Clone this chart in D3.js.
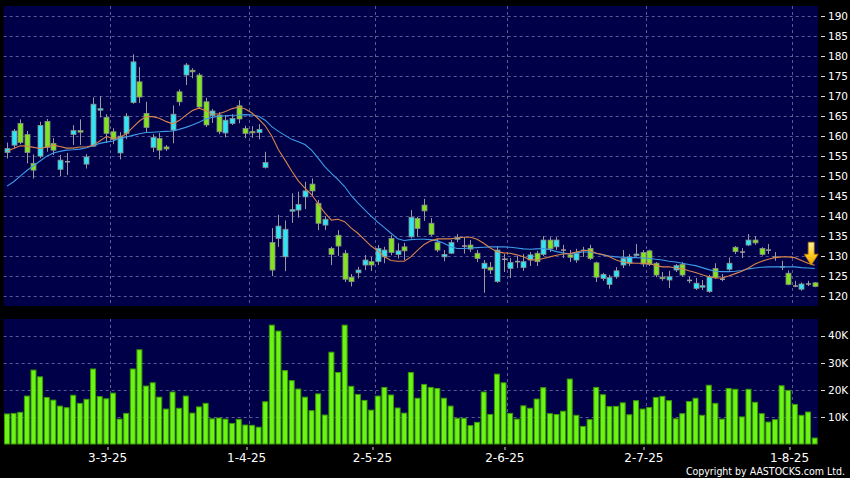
<!DOCTYPE html>
<html><head><meta charset="utf-8">
<script src="https://cdn.jsdelivr.net/npm/d3@7"></script>
<style>html,body{margin:0;padding:0;background:#000;}svg{display:block;}</style>
</head><body>
<svg id="chart" width="850" height="478"></svg>
<script>
// ---- data ----
const dates = [
"7-2-25","10-2-25","11-2-25","12-2-25","13-2-25","14-2-25","17-2-25","18-2-25","19-2-25","20-2-25","21-2-25","24-2-25","25-2-25","26-2-25","27-2-25","28-2-25",
"3-3-25","4-3-25","5-3-25","6-3-25","7-3-25","10-3-25","11-3-25","12-3-25","13-3-25","14-3-25","17-3-25","18-3-25","19-3-25","20-3-25","21-3-25","24-3-25","25-3-25","26-3-25","27-3-25","28-3-25","31-3-25",
"1-4-25","2-4-25","3-4-25","7-4-25","8-4-25","9-4-25","10-4-25","11-4-25","14-4-25","15-4-25","16-4-25","17-4-25","22-4-25","23-4-25","24-4-25","25-4-25","28-4-25","29-4-25","30-4-25",
"2-5-25","6-5-25","7-5-25","8-5-25","9-5-25","12-5-25","13-5-25","14-5-25","15-5-25","16-5-25","19-5-25","20-5-25","21-5-25","22-5-25","23-5-25","26-5-25","27-5-25","28-5-25","29-5-25","30-5-25",
"2-6-25","3-6-25","4-6-25","5-6-25","6-6-25","9-6-25","10-6-25","11-6-25","12-6-25","13-6-25","16-6-25","17-6-25","18-6-25","19-6-25","20-6-25","23-6-25","24-6-25","25-6-25","26-6-25","27-6-25","30-6-25",
"2-7-25","3-7-25","4-7-25","7-7-25","8-7-25","9-7-25","10-7-25","11-7-25","14-7-25","15-7-25","16-7-25","17-7-25","18-7-25","21-7-25","22-7-25","23-7-25","24-7-25","25-7-25","28-7-25","29-7-25","30-7-25","31-7-25",
"1-8-25","4-8-25","5-8-25","6-8-25"];

const open  = [155.9,157.75,163.2,160.4,153.2,155.0,163.7,158.2,151.7,153.6,160.4,161.4,153.0,157.5,166.5,164.7,161.1,155.8,160.7,168.4,173.6,165.7,157.2,159.4,157.3,161.5,171.1,175.3,176.5,175.3,168.6,165.1,165.3,160.8,163.2,167.6,
               161.9,161.2,160.9,152.2,133.4,134.4,129.8,141.3,141.5,144.8,148.0,143.2,137.75,131.9,135.2,130.7,124.7,125.8,127.75,128.6,
               128.6,129.8,134.4,130.4,132.3,134.8,139.4,142.75,138.2,133.4,129.8,130.7,134.2,132.5,132.75,130.7,126.9,127.2,123.6,129.2,
               126.9,128.6,127.1,129.0,130.7,130.4,134.0,132.3,131.5,130.3,129.0,131.4,131.9,128.3,124.4,122.9,124.8,127.75,128.2,130.2,130.9,
               131.3,128.2,124.7,124.0,126.5,127.9,123.9,121.9,122.2,121.1,126.9,124.2,126.7,132.2,131.0,132.75,134.0,131.9,131.5,129.7,127.3,125.7,
               122.5,121.7,123.0,123.3];
const high  = [158.4,161.8,164.2,161.3,155.4,163.6,164.3,159.5,155.3,155.8,162.75,164.2,155.5,169.7,170.0,165.5,162.0,161.0,165.75,180.5,177.3,168.6,160.5,160.8,157.8,167.7,171.7,178.3,177.0,175.8,169.6,166.8,166.0,165.3,165.5,169.0,
               162.6,162.5,163.0,156.1,137.0,140.3,138.9,145.7,146.1,148.6,149.4,144.0,140.0,132.3,136.5,131.5,125.5,127.3,130.25,129.8,
               132.75,132.3,135.2,133.2,133.3,141.5,139.8,144.3,139.5,134.3,131.5,134.0,135.5,134.75,134.0,131.5,129.0,128.5,132.5,130.5,
               129.5,130.0,130.5,131.0,131.3,135.0,134.7,134.7,132.8,131.5,131.8,132.3,132.8,128.6,125.8,125.3,127.2,131.5,130.5,133.0,131.5,
               131.6,128.5,126.0,126.3,128.0,128.5,124.8,124.5,124.0,125.3,128.2,125.5,129.6,132.5,132.0,135.5,135.0,132.2,133.0,131.0,128.8,126.4,
               123.8,123.4,123.8,123.5];
const low   = [154.4,157.0,158.0,153.2,149.4,154.5,156.1,155.3,150.0,150.3,157.8,157.8,151.9,157.3,164.7,158.3,158.0,154.2,159.25,168.1,168.3,161.0,156.0,154.2,156.3,158.2,167.6,172.8,174.5,166.8,162.3,163.3,160.5,159.7,162.8,163.2,
               159.5,159.6,159.2,151.9,125.0,132.3,126.2,138.3,139.6,141.75,145.0,136.5,136.5,127.75,130.0,123.5,122.4,124.4,126.5,126.25,
               127.75,128.2,130.2,129.4,129.0,134.4,134.8,138.8,135.0,131.0,128.7,130.5,133.5,130.6,131.0,128.5,120.8,125.5,123.3,126.0,
               124.5,127.0,126.3,127.5,127.5,130.0,131.0,131.5,129.5,128.5,128.3,129.8,129.0,123.5,123.8,121.8,124.3,127.0,127.5,129.9,127.3,
               127.5,124.7,123.8,122.0,126.0,124.8,123.2,121.5,121.5,120.8,124.3,123.7,126.3,130.5,129.5,132.5,132.8,130.1,130.5,128.8,126.5,122.7,
               122.2,121.3,122.5,122.2];
const close = [156.9,161.3,158.4,155.9,151.5,162.7,157.2,156.5,154.0,153.6,161.4,161.0,154.8,168.0,166.9,160.7,159.2,160.0,165.0,178.6,169.8,162.2,159.7,156.5,156.8,165.5,168.6,177.8,176.1,167.3,162.8,166.3,161.1,164.0,164.4,164.3,
               160.7,161.0,161.7,153.4,126.5,137.5,136.7,141.6,142.9,146.3,146.3,138.2,139.2,130.4,132.5,124.2,123.6,126.5,129.0,127.75,
               131.9,131.5,130.9,131.3,131.3,139.7,136.9,141.3,135.4,131.5,130.4,133.4,134.6,132.5,131.75,129.4,128.2,126.5,131.5,129.2,
               128.4,128.6,128.6,130.3,128.6,134.0,131.8,134.0,131.5,129.7,130.7,131.4,129.4,124.7,125.4,124.6,126.3,129.4,129.8,130.5,128.0,
               127.9,125.25,124.4,124.8,127.6,125.25,123.9,123.2,122.6,124.8,124.6,124.2,128.2,131.1,131.0,134.0,133.3,130.4,131.5,129.7,127.3,122.9,
               122.5,123.0,123.0,122.4];
const ma10 = [156.2,156.9,157.6,157.5,157.2,156.9,157.3,157.75,157.4,157.0,157.0,157.3,157.3,157.7,158.8,159.9,159.5,159.6,160.6,162.2,163.8,164.9,164.9,164.5,163.7,163.1,163.9,165.2,166.4,167.0,166.4,165.5,165.6,166.2,166.9,167.3,
              166.8,165.8,164.3,162.6,160.0,156.6,154.0,151.3,148.8,147.0,145.4,143.1,140.8,139.0,139.2,138.6,137.0,135.7,134.1,132.5,
              131.3,129.8,128.9,128.7,128.7,129.8,131.4,132.9,133.8,134.3,134.3,134.3,134.5,134.7,134.7,134.2,133.2,132.0,131.1,130.8,
              130.7,130.3,129.8,129.1,129.0,129.4,129.8,130.2,130.5,130.6,131.0,131.4,131.4,130.7,130.4,129.8,129.0,128.5,128.3,128.2,128.2,
              128.2,127.6,127.3,127.3,127.0,126.8,126.3,125.9,125.3,124.8,124.5,124.5,125.0,125.6,126.2,127.0,128.0,128.7,129.2,129.6,129.8,129.8,
              129.6,128.9,128.2,127.7];
const ma20 = [147.5,148.6,150.0,151.4,152.6,153.8,155.0,155.8,156.2,156.5,156.6,156.75,157.1,157.6,158.2,158.5,158.8,159.4,159.8,160.2,160.6,160.9,161.0,161.1,161.2,161.3,161.7,162.2,162.8,163.5,164.3,164.7,165.0,165.1,165.25,165.3,
              165.4,165.3,165.0,164.0,162.4,161.2,160.2,159.2,158.6,157.9,156.5,154.5,152.4,150.7,149.1,147.4,145.1,143.3,141.6,140.0,
              138.5,137.1,135.7,134.3,133.9,134.1,134.2,134.2,134.1,133.8,133.2,132.3,131.9,131.9,132.0,132.1,132.2,132.3,132.3,132.3,
              132.2,132.0,131.8,131.7,131.8,131.9,131.6,131.1,130.8,130.5,130.8,131.0,131.0,130.7,130.3,130.0,129.8,129.7,129.6,129.6,129.5,
              129.4,129.2,129.0,128.7,128.5,128.2,127.9,127.6,127.1,126.6,126.2,126.1,126.1,126.2,126.4,126.8,127.0,127.2,127.3,127.3,127.3,127.3,
              127.3,127.1,127.0,126.9];
const volumeK = [11.1,11.3,11.7,17.7,27.3,24.8,17.2,16.2,14.0,13.4,18.0,15.0,16.5,27.7,17.5,16.7,18.8,9.2,11.3,27.7,34.8,21.4,22.6,17.3,12.9,19.2,13.2,17.7,11.4,13.7,15.0,9.3,9.6,9.2,7.6,9.1,
                 7.0,6.9,6.2,15.6,43.9,41.7,27.1,23.4,20.3,17.3,12.3,18.5,10.7,33.9,26.4,43.9,21.3,18.3,16.1,12.5,
                 17.7,20.9,18.1,13.3,11.4,26.4,16.9,22.0,20.9,20.5,16.9,14.0,9.5,9.5,6.8,8.0,19.2,10.9,25.8,22.6,
                 11.3,9.2,14.1,13.2,16.6,20.8,11.2,10.9,12.1,24.0,10.6,6.5,9.0,20.9,18.2,13.8,13.9,15.2,10.8,16.0,12.9,
                 13.5,17.2,17.6,16.0,9.3,11.2,15.7,16.9,10.6,21.7,15.0,9.2,20.5,20.2,10.0,20.2,15.4,11.2,8.1,9.0,21.5,19.8,
                 14.6,10.6,11.8,2.2];
const priceTicks = [120,125,130,135,140,145,150,155,160,165,170,175,180,185,190];
const volTicksK = [10,20,30,40];
const dateTicks = ["3-3-25","1-4-25","2-5-25","2-6-25","2-7-25","1-8-25"];

// ---- layout ----
const svg = d3.select("#chart");
const W = 850, H = 478;
const left = 3.7, right = 818;
const mainTop = 6, mainBottom = 306;
const volTop = 319, volBottom = 444;

svg.append("rect").attr("width", W).attr("height", H).attr("fill", "#000");

const x = d3.scaleBand().domain(dates).range([left, right]).paddingInner(0.1).paddingOuter(0.05);
const y = d3.scaleLinear().domain([120, 190]).range([296, 16.3]);
const yv = d3.scaleLinear().domain([0, 40]).range([volBottom, 335.7]);
const step = x.step();
const cx = d => x(d) + x.bandwidth() / 2;

const panelFill = "#000048";
const gridColor = "#5a5a96";

svg.append("rect").attr("x", left).attr("y", mainTop).attr("width", right - left).attr("height", mainBottom - mainTop).attr("fill", panelFill);
svg.append("rect").attr("x", left).attr("y", volTop).attr("width", right - left).attr("height", volBottom - volTop).attr("fill", panelFill);

const gridX = d => x(d) - (step - x.bandwidth()) / 2 + 0.5;

// grids main
const gm = svg.append("g");
gm.selectAll("line.h").data(priceTicks).join("line")
  .attr("x1", left).attr("x2", right)
  .attr("y1", d => Math.round(y(d)) + 0.5).attr("y2", d => Math.round(y(d)) + 0.5)
  .attr("stroke", gridColor).attr("stroke-width", 1).attr("stroke-dasharray", "3,3");
gm.selectAll("line.v").data(dateTicks).join("line")
  .attr("x1", d => Math.round(gridX(d)) + 0.5).attr("x2", d => Math.round(gridX(d)) + 0.5)
  .attr("y1", mainTop).attr("y2", mainBottom)
  .attr("stroke", gridColor).attr("stroke-width", 1).attr("stroke-dasharray", "3,3");

// grids volume
const gv = svg.append("g");
gv.selectAll("line.h").data(volTicksK).join("line")
  .attr("x1", left).attr("x2", right)
  .attr("y1", d => Math.round(yv(d)) + 0.5).attr("y2", d => Math.round(yv(d)) + 0.5)
  .attr("stroke", gridColor).attr("stroke-width", 1).attr("stroke-dasharray", "3,3");
gv.selectAll("line.v").data(dateTicks).join("line")
  .attr("x1", d => Math.round(gridX(d)) + 0.5).attr("x2", d => Math.round(gridX(d)) + 0.5)
  .attr("y1", volTop).attr("y2", volBottom)
  .attr("stroke", gridColor).attr("stroke-width", 1).attr("stroke-dasharray", "3,3");

// volume bars
svg.append("g").selectAll("rect").data(dates).join("rect")
  .attr("x", d => x(d) + 0.5)
  .attr("y", (d, i) => yv(volumeK[i]))
  .attr("width", x.bandwidth() - 1)
  .attr("height", (d, i) => volBottom - yv(volumeK[i]))
  .attr("fill", "#6cf514").attr("stroke", "#3c9a08").attr("stroke-width", 1);

// candles
const cUp = "#2ee6f5", cDown = "#80e51f", cDoji = "#a0a0a0";
const cg = svg.append("g");
dates.forEach((d, i) => {
  const o = open[i], c = close[i];
  const col = c > o ? cUp : (c < o ? cDown : cDoji);
  const xc = Math.round(cx(d)) + 0.5;
  cg.append("line").attr("x1", xc).attr("x2", xc)
    .attr("y1", y(high[i])).attr("y2", y(low[i]))
    .attr("stroke", "#9a9a9a").attr("stroke-width", 1);
  const top = y(Math.max(o, c)), bot = y(Math.min(o, c));
  const bw = x.bandwidth() - 1;
  if (c === o) {
    cg.append("line").attr("x1", xc - bw / 2).attr("x2", xc + bw / 2)
      .attr("y1", top).attr("y2", top).attr("stroke", cDoji).attr("stroke-width", 1.5);
  } else {
    cg.append("rect").attr("x", xc - bw / 2).attr("y", top)
      .attr("width", bw).attr("height", Math.max(1.5, bot - top))
      .attr("fill", col).attr("stroke", "#8c8c8c").attr("stroke-width", 0.8);
  }
});

// moving averages
const line = arr => d3.line().x((d, i) => cx(dates[i])).y(v => y(v)).curve(d3.curveLinear)(arr);
svg.append("path").attr("d", line(ma20)).attr("fill", "none").attr("stroke", "#3d9be8").attr("stroke-width", 1.1);
svg.append("path").attr("d", line(ma10)).attr("fill", "none").attr("stroke", "#d9844a").attr("stroke-width", 1.1);

// arrow above last candle
const lastD = dates[dates.length - 1];
const ax = cx(lastD) - 3.5;
const ay = y(ma10[ma10.length - 1]);
const defs = svg.append("defs");
const gr = defs.append("linearGradient").attr("id", "ag").attr("x1", 0).attr("x2", 0).attr("y1", 0).attr("y2", 1);
gr.append("stop").attr("offset", "0").attr("stop-color", "#fff3a0");
gr.append("stop").attr("offset", "0.6").attr("stop-color", "#ffc61a");
gr.append("stop").attr("offset", "1").attr("stop-color", "#e89a00");
const arrowPath = d3.path();
arrowPath.moveTo(ax - 3, ay - 23); arrowPath.lineTo(ax + 3, ay - 23); arrowPath.lineTo(ax + 3, ay - 11);
arrowPath.lineTo(ax + 7, ay - 11); arrowPath.lineTo(ax, ay); arrowPath.lineTo(ax - 7, ay - 11);
arrowPath.lineTo(ax - 3, ay - 11); arrowPath.closePath();
svg.append("path").attr("d", arrowPath.toString()).attr("fill", "url(#ag)").attr("stroke", "#b07800").attr("stroke-width", 0.8);

// right price axis
const fontFam = "'DejaVu Sans', Verdana, sans-serif";
const pa = svg.append("g");
pa.selectAll("line").data(priceTicks).join("line")
  .attr("x1", 821).attr("x2", 825).attr("y1", d => Math.round(y(d)) + 0.5).attr("y2", d => Math.round(y(d)) + 0.5)
  .attr("stroke", "#ddd");
pa.selectAll("text").data(priceTicks).join("text")
  .attr("x", 828).attr("y", d => y(d)).attr("dy", "0.36em")
  .attr("fill", "#fff").attr("font-family", fontFam).attr("font-size", 10.5)
  .text(d => d);

// right volume axis
const va = svg.append("g");
va.selectAll("line").data(volTicksK).join("line")
  .attr("x1", 821).attr("x2", 825).attr("y1", d => Math.round(yv(d)) + 0.5).attr("y2", d => Math.round(yv(d)) + 0.5)
  .attr("stroke", "#ddd");
va.selectAll("text").data(volTicksK).join("text")
  .attr("x", 828).attr("y", d => yv(d)).attr("dy", "0.36em")
  .attr("fill", "#fff").attr("font-family", fontFam).attr("font-size", 10.5)
  .text(d => d + "K");

// date axis
const da = svg.append("g");
da.selectAll("line").data(dateTicks).join("line")
  .attr("x1", d => Math.round(gridX(d)) - 2).attr("x2", d => Math.round(gridX(d)) - 2)
  .attr("y1", 447).attr("y2", 450).attr("stroke", "#ddd");
da.selectAll("text").data(dateTicks).join("text")
  .attr("x", d => gridX(d) - 2.5).attr("y", 462).attr("text-anchor", "middle")
  .attr("fill", "#fff").attr("font-family", fontFam).attr("font-size", 12)
  .text(d => d);

svg.append("text").attr("x", 845).attr("y", 475).attr("text-anchor", "end")
  .attr("fill", "#fff").attr("font-family", "'DejaVu Sans Condensed', 'DejaVu Sans', sans-serif")
  .attr("font-stretch", "condensed").attr("font-size", 10.5)
  .text("Copyright by AASTOCKS.com Ltd.");
</script>
</body></html>
